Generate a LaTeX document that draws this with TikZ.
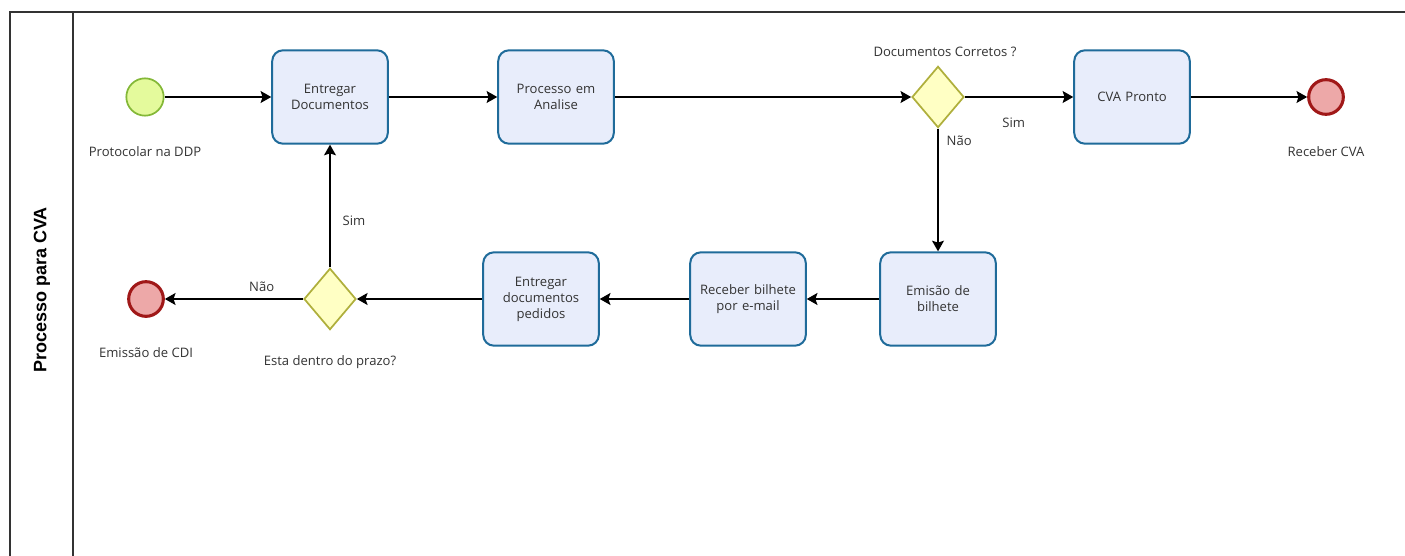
\documentclass[tikz,border=0pt]{standalone}
\usepackage{fontspec}
\setmainfont{Open Sans}
\setsansfont{Liberation Sans}
\usepackage{xcolor}
\usetikzlibrary{positioning,shapes.geometric,arrows.meta}

\definecolor{taskfill}{HTML}{E8EDFB}
\definecolor{taskline}{HTML}{1F6B9A}
\definecolor{gatefill}{HTML}{FFFFC4}
\definecolor{gateline}{HTML}{AFAF3C}
\definecolor{startfill}{HTML}{E4FA9C}
\definecolor{startline}{HTML}{84B838}
\definecolor{endfill}{HTML}{EDA8A8}
\definecolor{endline}{HTML}{A01818}
\definecolor{txt}{HTML}{333333}

\begin{document}
\begin{tikzpicture}[
    x=0.75pt, y=-0.75pt, % 1 unidade = 1 pixel
    task/.style={
        draw=taskline, fill=taskfill, line width=1.5pt,
        rounded corners=8pt,
        minimum width=86pt, minimum height=70pt,
        align=center, font=\fontsize{9.8}{12}\selectfont, text=txt,
        text width=80pt
    },
    gate/.style={
        diamond, draw=gateline, fill=gatefill, line width=1.3pt,
        minimum width=39pt, minimum height=46pt, inner sep=0pt
    },
    startev/.style={
        circle, draw=startline, fill=startfill, line width=1.3pt,
        minimum size=28pt, inner sep=0pt
    },
    endev/.style={
        circle, draw=endline, fill=endfill, line width=2.3pt,
        minimum size=26pt, inner sep=0pt
    },
    lbl/.style={
        font=\fontsize{9.8}{12}\selectfont, text=txt, inner sep=1pt
    },
    flow/.style={
        -{Stealth[length=8pt, width=9pt, inset=1.5pt]}, line width=1pt, black
    }
    ]
    \clip (0,0) rectangle (1405,556);

    % Pool e raia
    \draw[line width=1.3pt, black!80] (10,12) rectangle (1425,580);
    \draw[line width=1pt, black!80] (73,12) -- (73,580);
    \node[rotate=90, font=\sffamily\bfseries\fontsize{13.5}{15}\selectfont] (raia) at (42,290) {Processo para CVA};

    % Linha de cima
    \node[startev] (protocolar) at (145,97) {};
    \node[lbl] (protocolarlbl) at (145,152) {Protocolar na DDP};
    \node[task] (entregar) at (330,97) {Entregar\\Documentos};
    \node[task] (analise) at (556,97) {Processo em\\Analise};
    \node[gate] (corretos) at (938,97) {};
    \node[lbl] (corretoslbl) at (945,52) {Documentos Corretos ?};
    \node[task] (pronto) at (1132,97) {CVA Pronto};
    \node[endev] (cva) at (1326,97) {};
    \node[lbl] (cvalbl) at (1326,152) {Receber CVA};

    % Linha de baixo
    \node[task] (bilhete) at (938,299) {Emisão de\\bilhete};
    \node[task] (email) at (748,299) {Receber bilhete\\por e-mail};
    \node[task] (pedidos) at (541,299) {Entregar\\documentos\\pedidos};
    \node[gate] (prazo) at (330,299) {};
    \node[lbl] (prazolbl) at (330,362) {Esta dentro do prazo?};
    \node[endev] (cdi) at (146,299) {};
    \node[lbl] (cdilbl) at (146,353) {Emissão de CDI};

    % Fluxos
    \draw[flow] (protocolar) -- (entregar);
    \draw[flow] (entregar) -- (analise);
    \draw[flow] (analise) -- (corretos);
    \draw[flow] (corretos) -- node[lbl, pos=0.45, below=14pt] (simA) {Sim} (pronto);
    \draw[flow] (pronto) -- (cva);
    \draw[flow] (corretos) -- node[lbl, pos=0.1, right=5pt] (naoA) {Não} (bilhete);
    \draw[flow] (bilhete) -- (email);
    \draw[flow] (email) -- (pedidos);
    \draw[flow] (pedidos) -- (prazo);
    \draw[flow] (prazo) -- node[lbl, pos=0.38, right=8pt] (simB) {Sim} (entregar);
    \draw[flow] (prazo) -- node[lbl, pos=0.3, above=4pt] (naoB) {Não} (cdi);
\end{tikzpicture}
\end{document}
